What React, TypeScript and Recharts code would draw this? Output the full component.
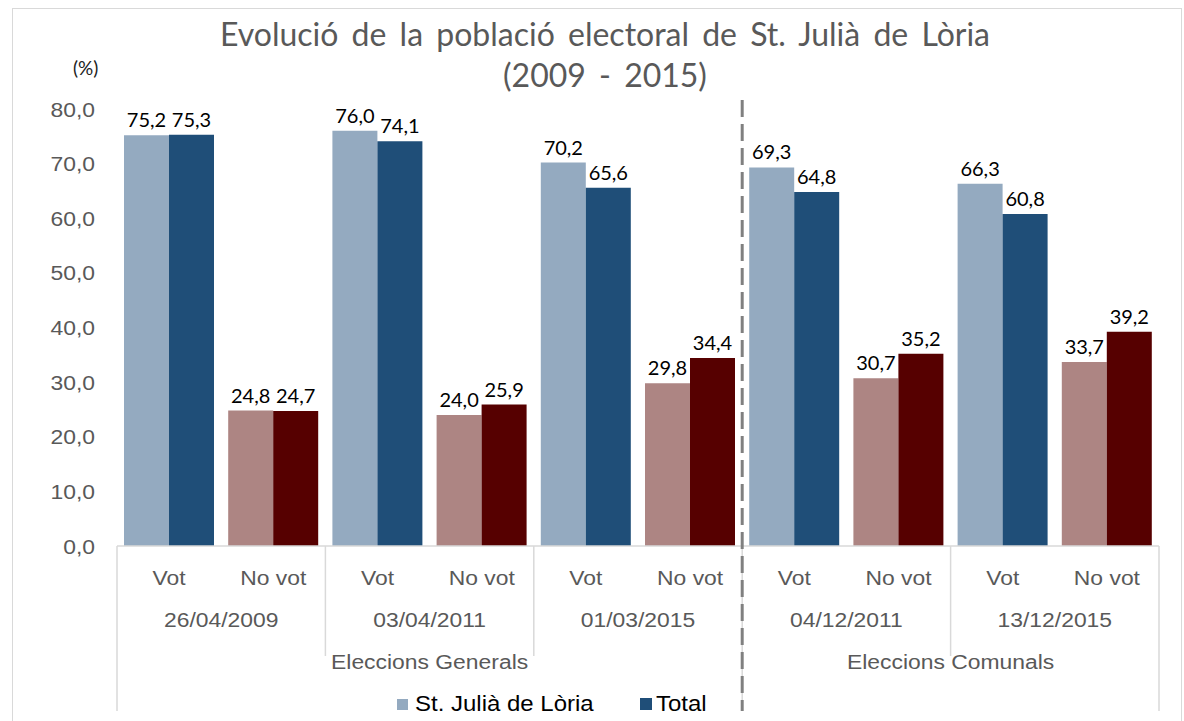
import React from "react";
import { BarChart, Bar, XAxis, YAxis, Cell, LabelList } from "recharts";

const categories = ["Vot", "No vot", "Vot", "No vot", "Vot", "No vot", "Vot", "No vot", "Vot", "No vot"];
const dates = ["26/04/2009", "03/04/2011", "01/03/2015", "04/12/2011", "13/12/2015"];
const elections = ["Eleccions Generals", "Eleccions Comunals"];
const electionSizes = [3, 2];
const stJulia = [75.2, 24.8, 76.0, 24.0, 70.2, 29.8, 69.3, 30.7, 66.3, 33.7];
const total = [75.3, 24.7, 74.1, 25.9, 65.6, 34.4, 64.8, 35.2, 60.8, 39.2];
const yTicks = [0, 10, 20, 30, 40, 50, 60, 70, 80];

const W = 1184;
const H = 721;
const M = { top: 109, right: 25, bottom: 0, left: 17 };
const Y_AXIS_W = 100;
const PLOT_W = W - M.left - M.right - Y_AXIS_W;
const BAND = PLOT_W / categories.length;

const COLORS = {
  votA: "#94aac0",
  votB: "#1f4e78",
  noA: "#ad8583",
  noB: "#560000",
};

const GRAY = "#595959";
const LINE = "#d9d9d9";
const AXIS_FONT = "'Liberation Sans', Arial, sans-serif";
const LABEL_FONT = "Lato, 'Open Sans', sans-serif";
const SX = 1.09; // the original axis text is slightly stretched

const data = categories.map((c, i) => ({
  name: c,
  stJulia: stJulia[i],
  total: total[i],
}));

const fmt = (v: number) => v.toFixed(1).replace(".", ",");

const electionStarts: number[] = [];
let acc = 0;
electionSizes.forEach((s) => {
  electionStarts.push(acc);
  acc += s;
});

function SText({ x, y, anchor = "middle", children }: any) {
  return (
    <g transform={`translate(${x},${y}) scale(${SX},1)`}>
      <text x={0} y={0} textAnchor={anchor} fill={GRAY} fontSize={21} fontFamily={AXIS_FONT}>
        {children}
      </text>
    </g>
  );
}

function YTick(props: any) {
  const { x, y, payload } = props;
  return (
    <SText x={x} y={y + 7.5} anchor="end">
      {fmt(payload.value)}
    </SText>
  );
}

function MultiTick(props: any) {
  const { x, y, payload } = props;
  const i = payload.index;
  const left = x - BAND / 2;
  const els: React.ReactNode[] = [];
  els.push(
    <SText key="c" x={x} y={y + 39}>
      {payload.value}
    </SText>
  );
  if (i % 2 === 0) {
    const d = i / 2;
    els.push(
      <SText key="d" x={x + BAND / 2} y={y + 81}>
        {dates[d]}
      </SText>
    );
    const e = electionStarts.indexOf(d);
    if (e >= 0) {
      const span = electionSizes[e] * 2 * BAND;
      els.push(
        <SText key="e" x={left + span / 2} y={y + 123}>
          {elections[e]}
        </SText>
      );
      els.push(<line key="el" x1={left} x2={left} y1={y} y2={y + 165} stroke={LINE} strokeWidth={1.5} />);
      if (e > 0) {
        els.push(
          <line key="dash" x1={left} x2={left} y1={100} y2={y + 165} stroke="#808080" strokeWidth={3} strokeDasharray="17 7" />
        );
      }
    } else {
      els.push(<line key="dl" x1={left} x2={left} y1={y} y2={y + 110} stroke={LINE} strokeWidth={1.5} />);
    }
  }
  if (i === categories.length - 1) {
    els.push(<line key="end" x1={x + BAND / 2} x2={x + BAND / 2} y1={y} y2={y + 165} stroke={LINE} strokeWidth={1.5} />);
  }
  return <g>{els}</g>;
}

const colorFor = (i: number, dark: boolean) =>
  i % 2 === 0 ? (dark ? COLORS.votB : COLORS.votA) : dark ? COLORS.noB : COLORS.noA;

export default function App() {
  return (
    <div style={{ position: "absolute", left: 0, top: 0, width: W, height: H, background: "#fff", overflow: "hidden" }}>
      <div
        style={{
          position: "absolute",
          left: 12,
          top: 8,
          width: 1168,
          height: 730,
          border: `1px solid ${LINE}`,
        }}
      />
      <div
        style={{
          position: "absolute",
          left: 0,
          width: 1210,
          top: 13,
          textAlign: "center",
          color: GRAY,
          fontFamily: LABEL_FONT,
          fontSize: 32,
          lineHeight: "41px",
          fontWeight: 400,
          wordSpacing: 5,
        }}
      >
        Evolució de la població electoral de St. Julià de Lòria
        <br />
        (2009 - 2015)
      </div>
      <div
        style={{
          position: "absolute",
          left: 73,
          top: 56,
          fontFamily: LABEL_FONT,
          fontSize: 19,
          color: "#222",
        }}
      >
        (%)
      </div>
      <div style={{ position: "absolute", left: 0, top: 0 }}>
        <BarChart width={W} height={H} data={data} margin={M} barCategoryGap={7} barGap={0}>
          <YAxis
            width={Y_AXIS_W}
            domain={[0, 80]}
            ticks={yTicks}
            axisLine={false}
            tickLine={false}
            tickSize={0}
            tickMargin={22}
            tick={<YTick />}
          />
          <XAxis
            dataKey="name"
            height={175}
            interval={0}
            tickLine={false}
            tickSize={0}
            tickMargin={0}
            axisLine={{ stroke: LINE, strokeWidth: 1.5 }}
            tick={<MultiTick />}
          />
          <Bar dataKey="stJulia" name="St. Julià de Lòria" fill={COLORS.votA} isAnimationActive={false}>
            {data.map((_, i) => (
              <Cell key={i} fill={colorFor(i, false)} />
            ))}
            <LabelList dataKey="stJulia" position="top" offset={8} formatter={(v: any) => fmt(Number(v))} fill="#000" fontSize={20} fontFamily={LABEL_FONT} />
          </Bar>
          <Bar dataKey="total" name="Total" fill={COLORS.votB} isAnimationActive={false}>
            {data.map((_, i) => (
              <Cell key={i} fill={colorFor(i, true)} />
            ))}
            <LabelList dataKey="total" position="top" offset={8} formatter={(v: any) => fmt(Number(v))} fill="#000" fontSize={20} fontFamily={LABEL_FONT} />
          </Bar>
        </BarChart>
      </div>
      <div
        style={{
          position: "absolute",
          top: 691,
          left: 397,
          display: "flex",
          alignItems: "center",
          fontFamily: AXIS_FONT,
          fontSize: 22,
          color: "#000",
        }}
      >
        <span style={{ width: 11, height: 11, background: COLORS.votA, marginRight: 7 }} />
        <span style={{ display: "inline-block", transform: `scaleX(${SX})`, transformOrigin: "left center", width: 176 }}>
          St. Julià de Lòria
        </span>
        <span style={{ width: 12, height: 12, background: COLORS.votB, marginLeft: 49, marginRight: 4 }} />
        <span style={{ display: "inline-block", transform: `scaleX(${SX})`, transformOrigin: "left center" }}>Total</span>
      </div>
    </div>
  );
}
